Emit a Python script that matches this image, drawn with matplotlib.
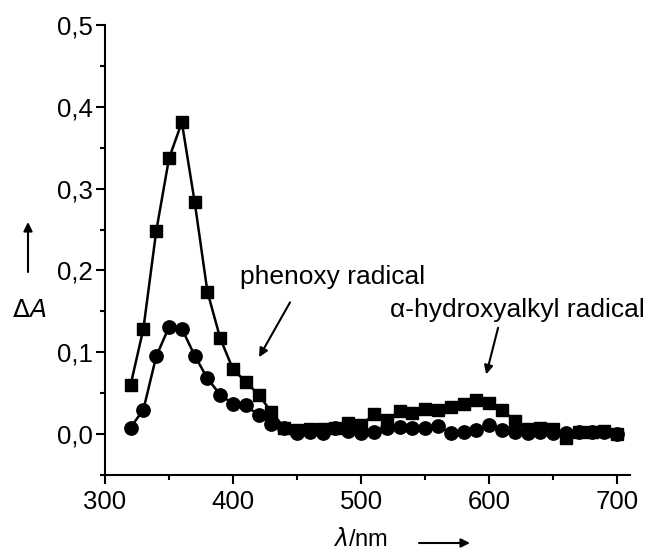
import matplotlib
matplotlib.use("Agg")
import matplotlib.pyplot as plt
from matplotlib.ticker import MultipleLocator, FuncFormatter

plt.rcParams['font.family'] = ['Liberation Sans', 'DejaVu Sans']

# wavelength (nm)
wl = [320, 330, 340, 350, 360, 370, 380, 390, 400, 410, 420, 430, 440, 450,
      460, 470, 480, 490, 500, 510, 520, 530, 540, 550, 560, 570, 580, 590,
      600, 610, 620, 630, 640, 650, 660, 670, 680, 690, 700]

# phenoxy radical (squares)
dA_sq = [0.060, 0.129, 0.248, 0.337, 0.381, 0.284, 0.174, 0.117, 0.079, 0.064,
         0.048, 0.027, 0.008, 0.005, 0.006, 0.006, 0.008, 0.013, 0.011, 0.024,
         0.017, 0.028, 0.026, 0.031, 0.029, 0.033, 0.037, 0.042, 0.038, 0.030,
         0.016, 0.006, 0.007, 0.006, -0.005, 0.002, 0.002, 0.004, 0.000]

# alpha-hydroxyalkyl radical (circles)
dA_ci = [0.008, 0.030, 0.095, 0.131, 0.129, 0.096, 0.068, 0.048, 0.037, 0.035,
         0.023, 0.012, 0.007, 0.001, 0.003, 0.001, 0.007, 0.004, 0.001, 0.003,
         0.007, 0.009, 0.008, 0.007, 0.010, 0.001, 0.002, 0.005, 0.011, 0.005,
         0.002, 0.001, 0.002, 0.001, 0.001, 0.003, 0.003, 0.003, 0.000]

W, H = 650, 552
fig = plt.figure(figsize=(6.5, 5.52), dpi=100)
ax = fig.add_axes([105 / W, 1 - 475 / H, 525 / W, 450 / H])

ax.plot(wl, dA_sq, color='black', lw=1.8, marker='s', ms=8.8)
ax.plot(wl, dA_ci, color='black', lw=1.8, marker='o', ms=9.6)

ax.set_xlim(300, 710)
ax.set_ylim(-0.05, 0.5)

ax.spines['top'].set_visible(False)
ax.spines['right'].set_visible(False)
for s in ['left', 'bottom']:
    ax.spines[s].set_linewidth(1.5)

ax.xaxis.set_major_locator(MultipleLocator(100))
ax.xaxis.set_minor_locator(MultipleLocator(50))
ax.yaxis.set_major_locator(MultipleLocator(0.1))
ax.yaxis.set_minor_locator(MultipleLocator(0.05))
ax.yaxis.set_major_formatter(FuncFormatter(lambda v, p: ('%.1f' % v).replace('.', ',')))

ax.tick_params(which='major', length=6.5, width=1.5, labelsize=18.5, direction='out')
ax.tick_params(which='minor', length=3.5, width=1.5, direction='out')
ax.tick_params(axis='x', pad=4)
ax.tick_params(axis='y', pad=2)

# annotations
ax.annotate('phenoxy radical', xy=(420.3, 0.094), xytext=(405.5, 0.183),
            fontsize=19, ha='left', va='baseline')
ax.annotate('', xy=(420.3, 0.094), xytext=(444.5, 0.161),
            arrowprops=dict(arrowstyle='-|>', color='black', lw=1.5,
                            mutation_scale=13, shrinkA=0, shrinkB=0))
ax.annotate('α-hydroxyalkyl radical', xy=(597.7, 0.073), xytext=(522.7, 0.143),
            fontsize=19, ha='left', va='baseline', annotation_clip=False)
ax.annotate('', xy=(597.7, 0.073), xytext=(607, 0.130),
            arrowprops=dict(arrowstyle='-|>', color='black', lw=1.5,
                            mutation_scale=13, shrinkA=0, shrinkB=0))

# axis labels with arrows (figure pixel coords)
fig.text(29 / W, 1 - 310 / H, r'$\Delta A$', fontsize=18, ha='center', va='center',
         math_fontfamily='dejavusans')
ax.annotate('', xy=(28 / W, 1 - 222 / H), xytext=(28 / W, 1 - 272 / H),
            xycoords='figure fraction', textcoords='figure fraction',
            arrowprops=dict(arrowstyle='-|>', color='black', lw=1.5,
                            mutation_scale=13, shrinkA=0, shrinkB=0))
fig.text(360 / W, 1 - 540 / H, r'$\lambda$/nm', fontsize=17, ha='center', va='center',
         math_fontfamily='dejavusans')
ax.annotate('', xy=(470 / W, 1 - 543 / H), xytext=(419 / W, 1 - 543 / H),
            xycoords='figure fraction', textcoords='figure fraction',
            arrowprops=dict(arrowstyle='-|>', color='black', lw=1.5,
                            mutation_scale=13, shrinkA=0, shrinkB=0))

fig.savefig('out.png', dpi=100)
